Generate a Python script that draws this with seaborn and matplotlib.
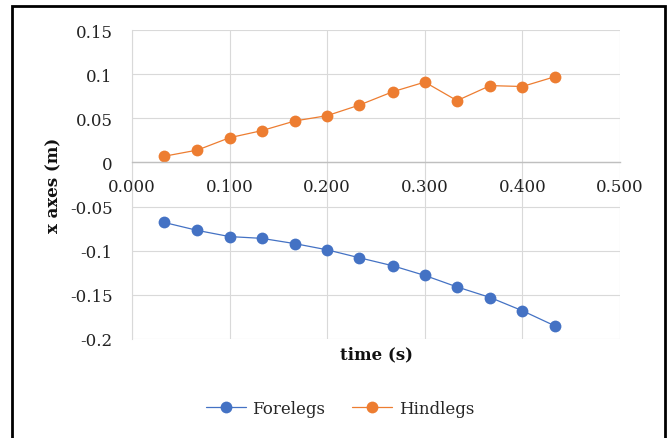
import matplotlib
matplotlib.use("Agg")
import matplotlib.pyplot as plt
from matplotlib.patches import Rectangle
import seaborn as sns
import pandas as pd

# stride timing (s) and horizontal displacement (m)
time_s = [0.033, 0.067, 0.100, 0.133, 0.167, 0.200, 0.233,
          0.267, 0.300, 0.333, 0.367, 0.400, 0.433]
forelegs = [-0.068, -0.077, -0.084, -0.086, -0.092, -0.099, -0.108,
            -0.117, -0.128, -0.141, -0.153, -0.168, -0.185]
hindlegs = [0.007, 0.014, 0.028, 0.036, 0.047, 0.053, 0.065,
            0.080, 0.091, 0.070, 0.087, 0.086, 0.097]

x_ticks = [0.0, 0.1, 0.2, 0.3, 0.4, 0.5]
x_tick_labels = ["0.000", "0.100", "0.200", "0.300", "0.400", "0.500"]
y_ticks = [-0.2, -0.15, -0.1, -0.05, 0.0, 0.05, 0.1, 0.15]
y_tick_labels = ["-0.2", "-0.15", "-0.1", "-0.05", "0", "0.05", "0.1", "0.15"]

df = pd.DataFrame({
    "time": time_s * 2,
    "x": forelegs + hindlegs,
    "series": ["Forelegs"] * len(time_s) + ["Hindlegs"] * len(time_s),
})

sns.set_theme(style="white")
plt.rcParams["font.family"] = ["DejaVu Serif"]

fig = plt.figure(figsize=(6.72, 4.39), dpi=100)
ax = fig.add_axes([132 / 672, 1 - 340 / 439, 488 / 672, 309 / 439])

palette = {"Forelegs": "#4472C4", "Hindlegs": "#ED7D31"}
sns.lineplot(data=df, x="time", y="x", hue="series", palette=palette,
             marker="o", markersize=8.5, markeredgewidth=0, linewidth=0.9,
             ax=ax, legend=True)

ax.set_xlim(0, 0.5)
ax.set_ylim(-0.2, 0.15)
ax.set_xticks(x_ticks)
ax.set_xticklabels(x_tick_labels)
ax.set_yticks(y_ticks)
ax.set_yticklabels(y_tick_labels)
ax.tick_params(axis="both", length=0, labelsize=12, colors="#222222")
ax.tick_params(axis="x", pad=11)
ax.tick_params(axis="y", pad=14)

ax.grid(True, color="#d9d9d9", linewidth=0.8)
ax.set_axisbelow(True)
for side in ("top", "right"):
    ax.spines[side].set_visible(False)
ax.spines["bottom"].set_position(("data", 0))
ax.spines["bottom"].set_color("#bfbfbf")
ax.spines["bottom"].set_linewidth(1.0)
ax.spines["left"].set_color("#d9d9d9")
ax.spines["left"].set_linewidth(0.8)

ax.set_xlabel("time (s)", fontsize=12, fontweight="bold", color="#111111")
ax.set_ylabel("x axes (m)", fontsize=12, fontweight="bold", color="#111111")
ax.xaxis.set_label_coords(0.5, -0.022)
ax.yaxis.set_label_coords(-0.143, 0.5)

handles, labels = ax.get_legend_handles_labels()
ax.legend_.remove()
fig.legend(handles, labels, loc="center", bbox_to_anchor=(0.506, 0.068),
           ncol=2, frameon=False, fontsize=12, handlelength=2.4,
           columnspacing=1.6, handletextpad=0.4)

fig.patches.append(Rectangle((12 / 672, -0.05), 653 / 672, 1 - 7 / 439 + 0.05,
                             transform=fig.transFigure, fill=False,
                             edgecolor="black", linewidth=2.0))

fig.savefig("out.png", dpi=100)
